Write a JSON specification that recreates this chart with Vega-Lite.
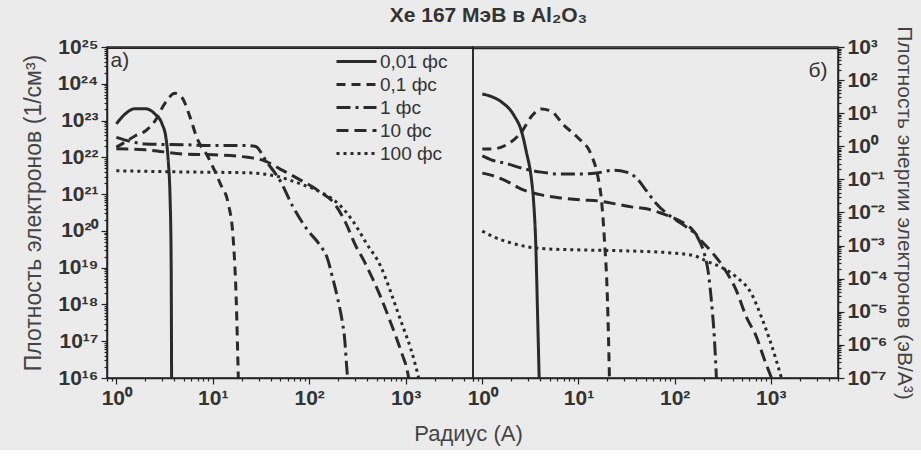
{
  "$schema": "https://vega.github.io/schema/vega-lite/v6.json",
  "background": "#ebebeb",
  "padding": {"left": 21, "top": 4, "right": 5, "bottom": 5},
  "config": {
    "font": "Liberation Sans",
    "view": {"stroke": "#222", "strokeWidth": 1.5},
    "axis": {"domainColor": "#222", "domainWidth": 1.5, "tickColor": "#222", "tickWidth": 1.2, "labelFont": "Liberation Sans", "labelFontWeight": "bold", "labelFontSize": 21, "labelColor": "#333", "titleFont": "Liberation Sans", "titleFontWeight": "normal", "titleFontSize": 22, "titleColor": "#444", "grid": false, "labelOverlap": false, "labelFlush": false}
  },
  "datasets": {
    "a": [
      {"s": "0,01 фс", "r": 1.0, "v": 8.1e22},
      {"s": "0,01 фс", "r": 1.23, "v": 1.5e23},
      {"s": "0,01 фс", "r": 1.56, "v": 2.1e23},
      {"s": "0,01 фс", "r": 1.99, "v": 2.1e23},
      {"s": "0,01 фс", "r": 2.52, "v": 1.5e23},
      {"s": "0,01 фс", "r": 2.98, "v": 8.1e22},
      {"s": "0,01 фс", "r": 3.28, "v": 3.2e22},
      {"s": "0,01 фс", "r": 3.44, "v": 9.1e21},
      {"s": "0,01 фс", "r": 3.61, "v": 7.4e20},
      {"s": "0,01 фс", "r": 3.7, "v": 1.7e19},
      {"s": "0,01 фс", "r": 3.74, "v": 1e16},
      {"s": "0,1 фс", "r": 1.0, "v": 1.9e22},
      {"s": "0,1 фс", "r": 1.23, "v": 2.6e22},
      {"s": "0,1 фс", "r": 1.56, "v": 3.8e22},
      {"s": "0,1 фс", "r": 2.0, "v": 5.2e22},
      {"s": "0,1 фс", "r": 2.52, "v": 9.8e22},
      {"s": "0,1 фс", "r": 3.2, "v": 3.0e23},
      {"s": "0,1 фс", "r": 4.07, "v": 5.5e23},
      {"s": "0,1 фс", "r": 4.8, "v": 4.2e23},
      {"s": "0,1 фс", "r": 5.8, "v": 1.26e23},
      {"s": "0,1 фс", "r": 6.9, "v": 3.2e22},
      {"s": "0,1 фс", "r": 8.8, "v": 1.1e22},
      {"s": "0,1 фс", "r": 12, "v": 1.9e21},
      {"s": "0,1 фс", "r": 14.5, "v": 5.4e20},
      {"s": "0,1 фс", "r": 16.3, "v": 6.0e19},
      {"s": "0,1 фс", "r": 17.5, "v": 1.4e18},
      {"s": "0,1 фс", "r": 18.4, "v": 1e16},
      {"s": "1 фс", "r": 1.0, "v": 3.5e22},
      {"s": "1 фс", "r": 1.5, "v": 2.6e22},
      {"s": "1 фс", "r": 2.0, "v": 2.3e22},
      {"s": "1 фс", "r": 5.0, "v": 2.2e22},
      {"s": "1 фс", "r": 10, "v": 2.1e22},
      {"s": "1 фс", "r": 20, "v": 2.1e22},
      {"s": "1 фс", "r": 27.4, "v": 2.0e22},
      {"s": "1 фс", "r": 36.4, "v": 7.4e21},
      {"s": "1 фс", "r": 50, "v": 2.3e21},
      {"s": "1 фс", "r": 68, "v": 4.5e20},
      {"s": "1 фс", "r": 95, "v": 1.1e20},
      {"s": "1 фс", "r": 130, "v": 4.0e19},
      {"s": "1 фс", "r": 152, "v": 2.0e19},
      {"s": "1 фс", "r": 176, "v": 5.0e18},
      {"s": "1 фс", "r": 198, "v": 1.4e18},
      {"s": "1 фс", "r": 218, "v": 4.0e17},
      {"s": "1 фс", "r": 233, "v": 1.2e17},
      {"s": "1 фс", "r": 245, "v": 2.0e16},
      {"s": "1 фс", "r": 250, "v": 1e16},
      {"s": "10 фс", "r": 1.0, "v": 1.7e22},
      {"s": "10 фс", "r": 2.0, "v": 1.6e22},
      {"s": "10 фс", "r": 5.0, "v": 1.23e22},
      {"s": "10 фс", "r": 10, "v": 1.17e22},
      {"s": "10 фс", "r": 23, "v": 1.0e22},
      {"s": "10 фс", "r": 35, "v": 7.9e21},
      {"s": "10 фс", "r": 50, "v": 4.8e21},
      {"s": "10 фс", "r": 77, "v": 2.6e21},
      {"s": "10 фс", "r": 125, "v": 1.23e21},
      {"s": "10 фс", "r": 188, "v": 5.0e20},
      {"s": "10 фс", "r": 238, "v": 1.7e20},
      {"s": "10 фс", "r": 303, "v": 4.0e19},
      {"s": "10 фс", "r": 367, "v": 1.6e19},
      {"s": "10 фс", "r": 455, "v": 5.0e18},
      {"s": "10 фс", "r": 551, "v": 1.6e18},
      {"s": "10 фс", "r": 667, "v": 4.5e17},
      {"s": "10 фс", "r": 800, "v": 1.26e17},
      {"s": "10 фс", "r": 933, "v": 4.0e16},
      {"s": "10 фс", "r": 1030, "v": 1.8e16},
      {"s": "10 фс", "r": 1077, "v": 1e16},
      {"s": "100 фс", "r": 1.0, "v": 4.3e21},
      {"s": "100 фс", "r": 5.0, "v": 4.0e21},
      {"s": "100 фс", "r": 23, "v": 3.8e21},
      {"s": "100 фс", "r": 45, "v": 3.1e21},
      {"s": "100 фс", "r": 81, "v": 1.9e21},
      {"s": "100 фс", "r": 130, "v": 1.15e21},
      {"s": "100 фс", "r": 201, "v": 5.4e20},
      {"s": "100 фс", "r": 282, "v": 1.9e20},
      {"s": "100 фс", "r": 394, "v": 4.5e19},
      {"s": "100 фс", "r": 551, "v": 1.1e19},
      {"s": "100 фс", "r": 700, "v": 2.2e18},
      {"s": "100 фс", "r": 827, "v": 6.3e17},
      {"s": "100 фс", "r": 955, "v": 2.2e17},
      {"s": "100 фс", "r": 1130, "v": 6.3e16},
      {"s": "100 фс", "r": 1273, "v": 2.1e16},
      {"s": "100 фс", "r": 1368, "v": 1e16}
    ],
    "b": [
      {"s": "0,01 фс", "r": 1.0, "v": 38},
      {"s": "0,01 фс", "r": 1.2, "v": 33},
      {"s": "0,01 фс", "r": 1.58, "v": 21.9},
      {"s": "0,01 фс", "r": 2.15, "v": 8.3},
      {"s": "0,01 фс", "r": 2.55, "v": 2.9},
      {"s": "0,01 фс", "r": 2.87, "v": 0.68},
      {"s": "0,01 фс", "r": 3.24, "v": 0.102},
      {"s": "0,01 фс", "r": 3.4, "v": 0.0257},
      {"s": "0,01 фс", "r": 3.6, "v": 0.001},
      {"s": "0,01 фс", "r": 3.75, "v": 1e-5},
      {"s": "0,01 фс", "r": 3.9, "v": 1e-7},
      {"s": "0,1 фс", "r": 1.0, "v": 0.83},
      {"s": "0,1 фс", "r": 1.24, "v": 0.83},
      {"s": "0,1 фс", "r": 1.78, "v": 1.1},
      {"s": "0,1 фс", "r": 2.55, "v": 2.7},
      {"s": "0,1 фс", "r": 3.3, "v": 8.5},
      {"s": "0,1 фс", "r": 4.1, "v": 13.5},
      {"s": "0,1 фс", "r": 5.2, "v": 11.5},
      {"s": "0,1 фс", "r": 7.0, "v": 4.4},
      {"s": "0,1 фс", "r": 9.7, "v": 1.9},
      {"s": "0,1 фс", "r": 13.6, "v": 0.55},
      {"s": "0,1 фс", "r": 16.1, "v": 0.102},
      {"s": "0,1 фс", "r": 17.3, "v": 0.0257},
      {"s": "0,1 фс", "r": 18.6, "v": 0.00158},
      {"s": "0,1 фс", "r": 20, "v": 2.5e-5},
      {"s": "0,1 фс", "r": 21, "v": 1e-7},
      {"s": "1 фс", "r": 1.0, "v": 0.51},
      {"s": "1 фс", "r": 1.24, "v": 0.39},
      {"s": "1 фс", "r": 1.78, "v": 0.3},
      {"s": "1 фс", "r": 2.55, "v": 0.22},
      {"s": "1 фс", "r": 4.1, "v": 0.166},
      {"s": "1 фс", "r": 6.6, "v": 0.145},
      {"s": "1 фс", "r": 10.7, "v": 0.145},
      {"s": "1 фс", "r": 15.4, "v": 0.155},
      {"s": "1 фс", "r": 23, "v": 0.19},
      {"s": "1 фс", "r": 31.5, "v": 0.166},
      {"s": "1 фс", "r": 40, "v": 0.11},
      {"s": "1 фс", "r": 51, "v": 0.045},
      {"s": "1 фс", "r": 65, "v": 0.018},
      {"s": "1 фс", "r": 93, "v": 0.0072},
      {"s": "1 фс", "r": 133, "v": 0.0036},
      {"s": "1 фс", "r": 177, "v": 0.00158},
      {"s": "1 фс", "r": 204, "v": 5.6e-4},
      {"s": "1 фс", "r": 225, "v": 1.4e-4},
      {"s": "1 фс", "r": 240, "v": 2.5e-5},
      {"s": "1 фс", "r": 259, "v": 1.6e-6},
      {"s": "1 фс", "r": 272, "v": 1e-7},
      {"s": "10 фс", "r": 1.0, "v": 0.155},
      {"s": "10 фс", "r": 1.33, "v": 0.126},
      {"s": "10 фс", "r": 1.78, "v": 0.089},
      {"s": "10 фс", "r": 2.55, "v": 0.051},
      {"s": "10 фс", "r": 4.1, "v": 0.034},
      {"s": "10 фс", "r": 6.6, "v": 0.0275},
      {"s": "10 фс", "r": 10.7, "v": 0.024},
      {"s": "10 фс", "r": 16, "v": 0.0224},
      {"s": "10 фс", "r": 24.8, "v": 0.018},
      {"s": "10 фс", "r": 35.5, "v": 0.0148},
      {"s": "10 фс", "r": 51, "v": 0.0129},
      {"s": "10 фс", "r": 73, "v": 0.0095},
      {"s": "10 фс", "r": 104, "v": 0.0063},
      {"s": "10 фс", "r": 150, "v": 0.0032},
      {"s": "10 фс", "r": 190, "v": 0.00138},
      {"s": "10 фс", "r": 242, "v": 6.5e-4},
      {"s": "10 фс", "r": 322, "v": 2.2e-4},
      {"s": "10 фс", "r": 440, "v": 4.3e-5},
      {"s": "10 фс", "r": 558, "v": 6.9e-6},
      {"s": "10 фс", "r": 710, "v": 1.74e-6},
      {"s": "10 фс", "r": 840, "v": 4.3e-7},
      {"s": "10 фс", "r": 1017, "v": 1e-7},
      {"s": "100 фс", "r": 1.0, "v": 0.00275},
      {"s": "100 фс", "r": 1.33, "v": 0.0018},
      {"s": "100 фс", "r": 2.0, "v": 0.0012},
      {"s": "100 фс", "r": 3.0, "v": 9.1e-4},
      {"s": "100 фс", "r": 4.9, "v": 7.9e-4},
      {"s": "100 фс", "r": 10.7, "v": 7.4e-4},
      {"s": "100 фс", "r": 33, "v": 6.9e-4},
      {"s": "100 фс", "r": 93, "v": 6.0e-4},
      {"s": "100 фс", "r": 161, "v": 4.9e-4},
      {"s": "100 фс", "r": 214, "v": 3.4e-4},
      {"s": "100 фс", "r": 307, "v": 2.2e-4},
      {"s": "100 фс", "r": 440, "v": 1.12e-4},
      {"s": "100 фс", "r": 630, "v": 3.5e-5},
      {"s": "100 фс", "r": 800, "v": 6.9e-6},
      {"s": "100 фс", "r": 969, "v": 1.5e-6},
      {"s": "100 фс", "r": 1148, "v": 3.2e-7},
      {"s": "100 фс", "r": 1290, "v": 1e-7}
    ]
  },
  "title": {"text": "Xe 167 МэВ в Al₂O₃", "anchor": "middle", "fontSize": 21, "fontWeight": "bold", "color": "#333", "font": "Liberation Sans", "offset": -1, "dx": 20},
  "vconcat": [
    {
      "title": {"text": "Радиус (А)", "orient": "bottom", "anchor": "middle", "fontSize": 22, "fontWeight": "normal", "color": "#444", "font": "Liberation Sans", "offset": 15},
      "spacing": 0,
      "bounds": "flush",
      "resolve": {"scale": {"strokeDash": "independent"}, "legend": {"strokeDash": "independent"}},
      "hconcat": [
        {
          "width": 366,
          "height": 331,
          "layer": [
            {
              "data": {"name": "a"},
              "mark": {"type": "line", "strokeWidth": 3, "color": "#2a2a2a", "interpolate": "monotone", "clip": true},
              "encoding": {
                "x": {"field": "r", "type": "quantitative", "scale": {"type": "log", "domain": [0.8, 5000], "nice": false},
                  "axis": {"title": null, "values": [0.8,0.9,1,2,3,4,5,6,7,8,9,10,20,30,40,50,60,70,80,90,100,200,300,400,500,600,700,800,900,1000,2000,3000,4000,5000],
                    "labelExpr": "abs(log(datum.value)/LN10 - round(log(datum.value)/LN10)) < 0.001 ? '10' + (round(log(datum.value)/LN10) < 0 ? '⁻' : '') + (abs(round(log(datum.value)/LN10)) >= 10 ? ['⁰','¹','²','³','⁴','⁵','⁶','⁷','⁸','⁹'][floor(abs(round(log(datum.value)/LN10))/10)] : '') + ['⁰','¹','²','³','⁴','⁵','⁶','⁷','⁸','⁹'][abs(round(log(datum.value)/LN10)) % 10] : ''",
                    "tickSize": {"condition": {"test": "abs(log(datum.value)/LN10 - round(log(datum.value)/LN10)) < 0.001", "value": 6}, "value": 3},
                    "labelPadding": 3}},
                "y": {"field": "v", "type": "quantitative", "scale": {"type": "log", "domain": [1e16, 1e25], "nice": false},
                  "axis": {"title": "Плотность электронов (1/см³)", "titlePadding": 12, "titleFontSize": 23,
                    "values": [1e16,2e16,3e16,4e16,5e16,6e16,7e16,8e16,9e16,1e17,2e17,3e17,4e17,5e17,6e17,7e17,8e17,9e17,1e18,2e18,3e18,4e18,5e18,6e18,7e18,8e18,9e18,1e19,2e19,3e19,4e19,5e19,6e19,7e19,8e19,9e19,1e20,2e20,3e20,4e20,5e20,6e20,7e20,8e20,9e20,1e21,2e21,3e21,4e21,5e21,6e21,7e21,8e21,9e21,1e22,2e22,3e22,4e22,5e22,6e22,7e22,8e22,9e22,1e23,2e23,3e23,4e23,5e23,6e23,7e23,8e23,9e23,1e24,2e24,3e24,4e24,5e24,6e24,7e24,8e24,9e24,1e25],
                    "labelExpr": "abs(log(datum.value)/LN10 - round(log(datum.value)/LN10)) < 0.001 ? '10' + (round(log(datum.value)/LN10) < 0 ? '⁻' : '') + (abs(round(log(datum.value)/LN10)) >= 10 ? ['⁰','¹','²','³','⁴','⁵','⁶','⁷','⁸','⁹'][floor(abs(round(log(datum.value)/LN10))/10)] : '') + ['⁰','¹','²','³','⁴','⁵','⁶','⁷','⁸','⁹'][abs(round(log(datum.value)/LN10)) % 10] : ''",
                    "tickSize": {"condition": {"test": "abs(log(datum.value)/LN10 - round(log(datum.value)/LN10)) < 0.001", "value": 6}, "value": 3},
                    "labelPadding": 3}},
                "strokeDash": {"field": "s", "type": "nominal",
                  "scale": {"domain": ["0,01 фс", "0,1 фс", "1 фс", "10 фс", "100 фс"], "range": [[1, 0], [9, 6], [14, 5, 3, 5], [12, 6], [3, 4]]},
                  "legend": {"title": null, "orient": "none", "legendX": 228, "legendY": 5, "symbolType": "stroke", "symbolSize": 1600, "symbolStrokeWidth": 3, "symbolStrokeColor": "#2a2a2a", "labelFontSize": 19, "labelFont": "Liberation Sans", "labelColor": "#333", "rowPadding": 3, "clipHeight": 19, "labelOffset": 2, "padding": 0}}
              }
            },
            {
              "data": {"values": [{"edge": "top"}]},
              "mark": {"type": "rule", "strokeWidth": 1.5, "color": "#222"},
              "encoding": {"y": {"datum": 9.2e24}}
            },
            {
              "data": {"values": [{"t": "а)"}]},
              "mark": {"type": "text", "align": "left", "baseline": "middle", "fontSize": 21, "color": "#333", "font": "Liberation Sans"},
              "encoding": {"text": {"field": "t"}, "x": {"datum": 0.87}, "y": {"datum": 4.2e24}}
            }
          ]
        },
        {
          "width": 365,
          "height": 331,
          "layer": [
            {
              "data": {"name": "b"},
              "mark": {"type": "line", "strokeWidth": 3, "color": "#2a2a2a", "interpolate": "monotone", "clip": true},
              "encoding": {
                "x": {"field": "r", "type": "quantitative", "scale": {"type": "log", "domain": [0.8, 5000], "nice": false},
                  "axis": {"title": null, "values": [0.8,0.9,1,2,3,4,5,6,7,8,9,10,20,30,40,50,60,70,80,90,100,200,300,400,500,600,700,800,900,1000,2000,3000,4000,5000],
                    "labelExpr": "abs(log(datum.value)/LN10 - round(log(datum.value)/LN10)) < 0.001 ? '10' + (round(log(datum.value)/LN10) < 0 ? '⁻' : '') + (abs(round(log(datum.value)/LN10)) >= 10 ? ['⁰','¹','²','³','⁴','⁵','⁶','⁷','⁸','⁹'][floor(abs(round(log(datum.value)/LN10))/10)] : '') + ['⁰','¹','²','³','⁴','⁵','⁶','⁷','⁸','⁹'][abs(round(log(datum.value)/LN10)) % 10] : ''",
                    "tickSize": {"condition": {"test": "abs(log(datum.value)/LN10 - round(log(datum.value)/LN10)) < 0.001", "value": 6}, "value": 3},
                    "labelPadding": 3}},
                "y": {"field": "v", "type": "quantitative", "scale": {"type": "log", "domain": [1e-7, 1000], "nice": false},
                  "axis": {"orient": "right", "title": "Плотность энергии электронов (эВ/А³)", "titlePadding": 6, "titleFontSize": 21,
                    "values": [1e-7,2e-7,3e-7,4e-7,5e-7,6e-7,7e-7,8e-7,9e-7,1e-6,2e-6,3e-6,4e-6,5e-6,6e-6,7e-6,8e-6,9e-6,1e-5,2e-5,3e-5,4e-5,5e-5,6e-5,7e-5,8e-5,9e-5,1e-4,2e-4,3e-4,4e-4,5e-4,6e-4,7e-4,8e-4,9e-4,0.001,0.002,0.003,0.004,0.005,0.006,0.007,0.008,0.009,0.01,0.02,0.03,0.04,0.05,0.06,0.07,0.08,0.09,0.1,0.2,0.3,0.4,0.5,0.6,0.7,0.8,0.9,1,2,3,4,5,6,7,8,9,10,20,30,40,50,60,70,80,90,100,200,300,400,500,600,700,800,900,1000],
                    "labelExpr": "abs(log(datum.value)/LN10 - round(log(datum.value)/LN10)) < 0.001 ? '10' + (round(log(datum.value)/LN10) < 0 ? '⁻' : '') + (abs(round(log(datum.value)/LN10)) >= 10 ? ['⁰','¹','²','³','⁴','⁵','⁶','⁷','⁸','⁹'][floor(abs(round(log(datum.value)/LN10))/10)] : '') + ['⁰','¹','²','³','⁴','⁵','⁶','⁷','⁸','⁹'][abs(round(log(datum.value)/LN10)) % 10] : ''",
                    "tickSize": {"condition": {"test": "abs(log(datum.value)/LN10 - round(log(datum.value)/LN10)) < 0.001", "value": 6}, "value": 3},
                    "labelPadding": 3}},
                "strokeDash": {"field": "s", "type": "nominal",
                  "scale": {"domain": ["0,01 фс", "0,1 фс", "1 фс", "10 фс", "100 фс"], "range": [[1, 0], [9, 6], [14, 5, 3, 5], [12, 6], [3, 4]]},
                  "legend": null}
              }
            },
            {
              "data": {"values": [{"edge": "top"}]},
              "mark": {"type": "rule", "strokeWidth": 1.5, "color": "#222"},
              "encoding": {"y": {"datum": 905}}
            },
            {
              "data": {"values": [{"t": "б)"}]},
              "mark": {"type": "text", "align": "right", "baseline": "middle", "fontSize": 21, "color": "#333", "font": "Liberation Sans"},
              "encoding": {"text": {"field": "t"}, "x": {"datum": 3890}, "y": {"datum": 188}}
            }
          ]
        }
      ]
    }
  ]
}
